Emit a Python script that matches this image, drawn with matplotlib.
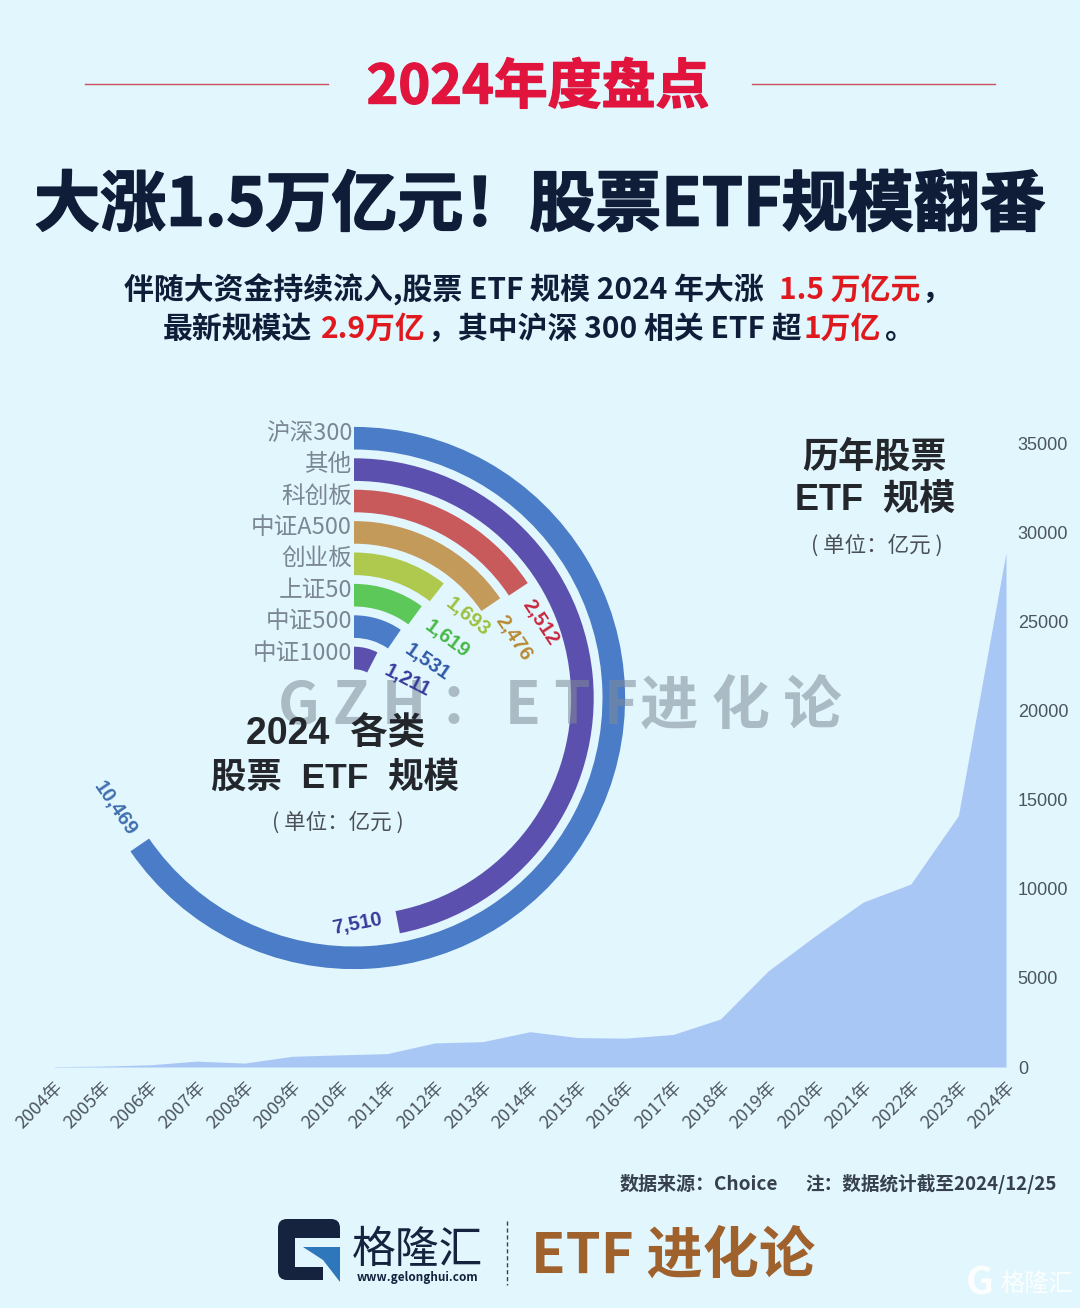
import numpy as np
import matplotlib
matplotlib.use('Agg')
import matplotlib.pyplot as plt
import matplotlib.patheffects as pe
from matplotlib.patches import FancyBboxPatch, Polygon, Rectangle

plt.rcParams['font.family'] = ['Noto Sans CJK SC', 'DejaVu Sans']
WIDE = ['Liberation Sans', 'Noto Sans CJK SC']

years = ['%d年' % y for y in range(2004, 2025)]
etf_size = [20, 50, 120, 330, 220, 600, 680, 750, 1350, 1420, 1980, 1650, 1620, 1820,
            2690, 5380, 7370, 9250, 10260, 14100, 28850]
y_ticks = [0, 5000, 10000, 15000, 20000, 25000, 30000, 35000]

# top of the ring chart first
cats = ['沪深300', '其他', '科创板', '中证A500', '创业板', '上证50', '中证500', '中证1000']
cat_vals = [10469, 7510, 2512, 2476, 1693, 1619, 1531, 1211]
cat_colors = ['#4a7cc8', '#5c50ae', '#c85a5c', '#c49a5a', '#aec94e', '#5cc85a', '#4a7cc8', '#5c50ae']
label_colors = ['#3f6fae', '#38399a', '#c9283f', '#b98a35', '#9cc03c', '#46b846', '#2f5aa8', '#38399a']

BG = '#e2f6fe'
W, H = 1080, 1308
CX, CY = 354, 698     # ring centre, px
R_IN, PITCH = 40, 31.4
RING_MAX = 16000

fig = plt.figure(figsize=(W / 100, H / 100), dpi=100, facecolor=BG)


def box(x0, y0, x1, y1):
    return [x0 / W, 1 - y1 / H, (x1 - x0) / W, (y1 - y0) / H]


# area chart
ax = fig.add_axes(box(54, 443, 1006, 1067))
ax.patch.set_alpha(0)
x = np.arange(len(years))
ax.fill_between(x, etf_size, 0, color='#a8c7f5', lw=0)
ax.set_xlim(0, 20)
ax.set_ylim(0, 35000)
for s in ax.spines.values():
    s.set_visible(False)
ax.yaxis.tick_right()
ax.set_yticks(y_ticks)
ax.set_yticklabels([str(v) for v in y_ticks], family='Liberation Sans', fontsize=13, color='#4a5560')
ax.set_xticks(x)
ax.set_xticklabels(years, rotation=45, ha='right', rotation_mode='anchor', fontsize=13, color='#4c5560')
ax.tick_params(axis='both', length=0)
ax.tick_params(axis='x', pad=8)
ax.tick_params(axis='y', pad=8.5)

# ring chart
R_AX = 300
rax = fig.add_axes(box(CX - R_AX, CY - R_AX, CX + R_AX, CY + R_AX), projection='polar')
rax.patch.set_alpha(0)
rax.set_theta_offset(np.pi / 2)
rax.set_theta_direction(-1)
n = len(cats)
for i in range(n):
    rax.barh(n - 1 - i, cat_vals[i] / RING_MAX * 2 * np.pi, left=0, height=0.72,
             color=cat_colors[i], lw=0)
rax.set_xlim(0, 2 * np.pi)
rax.set_ylim(-0.6, (R_AX - R_IN) / PITCH)
rax.set_rorigin(-R_IN / PITCH)
rax.axis('off')

# overlay in pixel coordinates for the texts
ov = fig.add_axes([0, 0, 1, 1], zorder=5)
ov.set_xlim(0, W)
ov.set_ylim(H, 0)
ov.axis('off')

# watermark goes under the captions
for wx, txt in [(278, 'G Z H ：'), (505, 'E T F'), (640, '进 化 论')]:
    ov.text(wx, 707, txt, ha='left', va='center', fontsize=42, fontweight='bold',
            color='#7f8c96', alpha=0.55)

for i in range(n):
    r = R_IN + PITCH * (n - 1 - i)
    ov.text(352, CY - r - 5, cats[i], ha='right', va='center', fontsize=17, color='#7b8794')
    th = np.deg2rad(cat_vals[i] / RING_MAX * 360)
    rl = r - 6 if 5000 < cat_vals[i] < 10000 else r
    off = 44 if cat_vals[i] > 10000 else 40
    lx = CX + rl * np.sin(th) + off * np.cos(th)
    ly = CY - rl * np.cos(th) + off * np.sin(th)
    rot = -np.rad2deg(th)
    if rot < -90:
        rot += 180
    ov.text(lx, ly, format(cat_vals[i], ','), ha='center', va='center', rotation=rot,
            rotation_mode='anchor', fontsize=14.5, fontweight='bold', color=label_colors[i],
            family='Liberation Sans')

# headline block
RED = '#e0143c'
NAVY = '#101d38'
ov.text(538, 88, '2024年度盘点', ha='center', va='center', fontsize=38.8, fontweight='bold', color=RED,
        path_effects=[pe.withStroke(linewidth=1, foreground=RED)])
ov.plot([85, 328], [84, 84], color='#c9505c', lw=1)
ov.plot([752, 995], [84, 84], color='#c9505c', lw=1)
ov.text(540, 206, '大涨1.5万亿元！股票ETF规模翻番', ha='center', va='center', fontsize=47.5,
        fontweight='bold', color=NAVY, path_effects=[pe.withStroke(linewidth=1.2, foreground=NAVY)])

sub_runs = [
    (124, 290, '伴随大资金持续流入,股票 ETF 规模 2024 年大涨', NAVY),
    (779, 290, '1.5 万亿元', '#e0191f'),
    (921, 290, '，', NAVY),
    (163, 329, '最新规模达', NAVY),
    (321, 329, '2.9万亿', '#e0191f'),
    (428, 329, '，其中沪深 300 相关 ETF 超', NAVY),
    (804, 329, '1万亿', '#e0191f'),
    (884, 329, '。', NAVY),
]
for sx, sy, txt, col in sub_runs:
    ov.text(sx, sy, txt, ha='left', va='center', fontsize=21.5, fontweight='bold', color=col)

# chart captions
DARK = '#23272c'
ov.text(336, 735, '2024  各类', ha='center', va='center', fontsize=27, fontweight='bold', color=DARK, family=WIDE)
ov.text(335, 778, '股票  ETF  规模', ha='center', va='center', fontsize=25.5, fontweight='bold', color=DARK, family=WIDE)
ov.text(338, 823, '( 单位：亿元 )', ha='center', va='center', fontsize=15.5, color='#4a4f55')
ov.text(874, 457, '历年股票', ha='center', va='center', fontsize=26, fontweight='bold', color=DARK)
ov.text(875, 500, 'ETF  规模', ha='center', va='center', fontsize=26, fontweight='bold', color=DARK, family=WIDE)
ov.text(877, 546, '( 单位：亿元 )', ha='center', va='center', fontsize=15.5, color='#4a4f55')

# source
ov.text(620, 1184, '数据来源：Choice', ha='left', va='center', fontsize=13.7, fontweight='bold', color='#36404e')
ov.text(805, 1184, '注：数据统计截至2024/12/25', ha='left', va='center', fontsize=13.4, fontweight='bold', color='#36404e')

# logo
LOGO = '#15233f'
ov.add_patch(FancyBboxPatch((282, 1223), 54, 53, boxstyle='round,pad=4,rounding_size=9', fc=LOGO, ec='none'))
ov.add_patch(Rectangle((295, 1238), 46, 29, fc=BG, ec='none'))
ov.add_patch(Rectangle((323, 1238), 18, 44, fc=BG, ec='none'))
ov.add_patch(Polygon([(303, 1247), (340, 1247), (340, 1282), (323, 1260)], fc='#2f77bb', ec='none'))
ov.text(417, 1250, '格隆汇', ha='center', va='center', fontsize=31.5, fontweight='medium', color=LOGO)
ov.text(417, 1277, 'www.gelonghui.com', ha='center', va='center', fontsize=8.5, fontweight='bold', color=LOGO)
ov.plot([507, 507], [1221, 1285], color='#33415a', lw=1, ls=(0, (3, 2)))
ov.text(531, 1256, 'ETF 进化论', ha='left', va='center', fontsize=40.5, fontweight='bold', color='#a0622d')

# corner mark
ov.text(1000, 1284, '格隆汇', ha='left', va='center', fontsize=17.5, color='white', alpha=0.9)
ov.text(980, 1283, 'G', ha='center', va='center', fontsize=28, fontweight='bold', color='white', alpha=0.9)

fig.savefig('out.png', dpi=100, facecolor=BG)
